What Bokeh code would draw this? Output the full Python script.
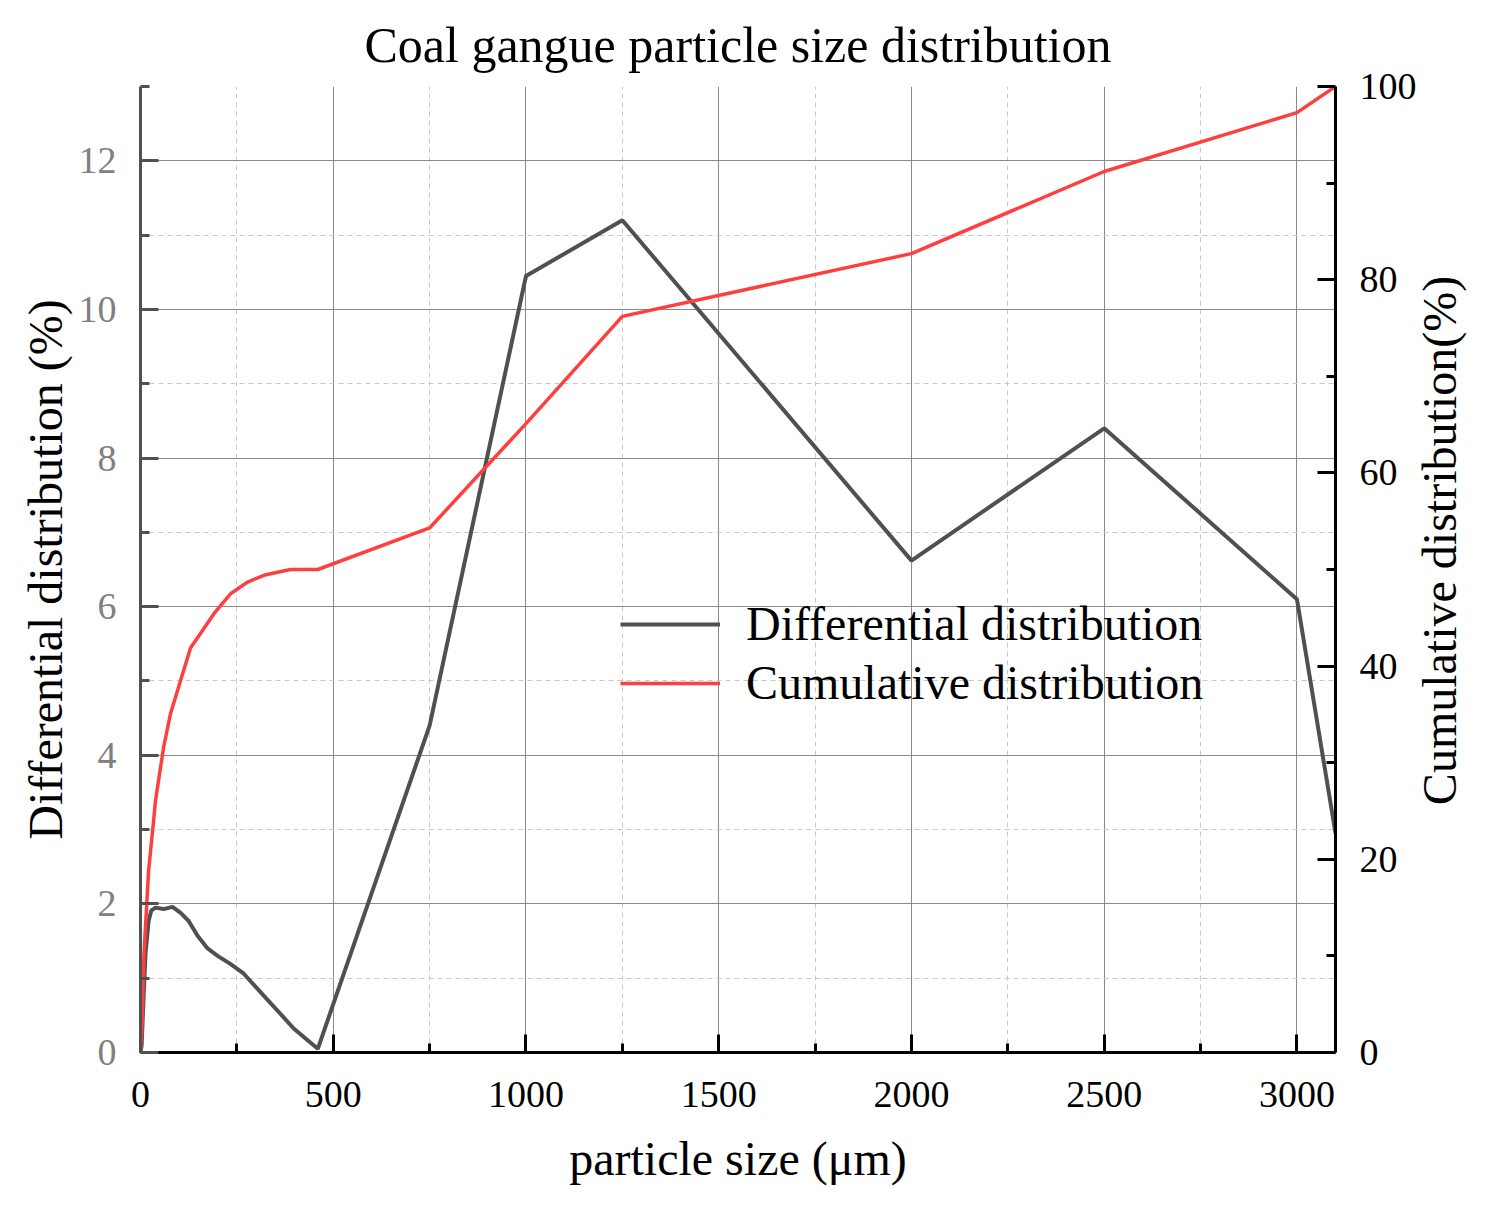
import math
from bokeh.plotting import figure
from bokeh.models import Range1d, LinearAxis, FixedTicker, Legend, LegendItem, Label
from bokeh.embed import file_html
from bokeh.resources import INLINE

# ---- data ----
size_diff = [0, 3, 8, 13, 21, 28, 39, 60, 83, 104, 125, 148, 174, 200, 234, 268, 303, 338, 372, 398,
             460, 750, 1000, 1250, 2000, 2500, 3000, 3100]
diff = [0.0, 0.1, 0.75, 1.33, 1.77, 1.91, 1.95, 1.93, 1.96, 1.88, 1.77, 1.57, 1.40, 1.30, 1.19, 1.06,
        0.86, 0.66, 0.47, 0.32, 0.05, 4.40, 10.45, 11.20, 6.62, 8.40, 6.10, 2.95]

size_cum = [0, 4, 9, 21, 34, 39, 60, 78, 104, 130, 156, 190, 234, 278, 320, 364, 390, 460,
            750, 1000, 1250, 2000, 2500, 3000, 3100]
cum = [0.0, 3.0, 10.2, 18.8, 24.0, 26.1, 31.6, 35.1, 38.5, 41.9, 43.4, 45.4, 47.5, 48.7, 49.4,
       49.8, 50.0, 50.0, 54.3, 65.1, 76.2, 82.7, 91.2, 97.3, 100.0]

x_ticks = [0, 500, 1000, 1500, 2000, 2500, 3000]
x_minor = [250, 750, 1250, 1750, 2250, 2750]
y_ticks = [0, 2, 4, 6, 8, 10, 12]
y_minor = [1, 3, 5, 7, 9, 11, 13]
y2_ticks = [0, 20, 40, 60, 80, 100]
y2_minor = [10, 30, 50, 70, 90]

title_text = "Coal gangue particle size distribution"
x_label = "particle size (μm)"
y_label = "Differential distribution (%)"
y2_label = "Cumulative distribution(%)"
series_names = ["Differential distribution", "Cumulative distribution"]

FONT = "Liberation Serif"
DARK = "#505050"
RED = "#ff3f3f"

p = figure(width=1477, height=1210, output_backend="svg", toolbar_location=None,
           x_range=Range1d(0, 3100), y_range=Range1d(0, 13),
           min_border_left=140, min_border_right=142, min_border_top=86, min_border_bottom=158)
p.outline_line_color = None
p.background_fill_color = "white"
p.border_fill_color = "white"

p.title.text = title_text
p.title.text_font = FONT
p.title.text_font_size = "50px"
p.title.text_font_style = "normal"
p.title.text_color = "black"
p.title.align = "center"
p.title.standoff = 28

p.extra_y_ranges = {"cum": Range1d(0, 100)}

# bottom axis
xa = p.xaxis[0]
xa.ticker = FixedTicker(ticks=x_ticks, minor_ticks=x_minor)
xa.axis_label = x_label
# left axis
ya = p.yaxis[0]
ya.ticker = FixedTicker(ticks=y_ticks, minor_ticks=y_minor)
ya.axis_label = y_label
# right axis (its title is a rotated label in the right panel)
ya2 = LinearAxis(y_range_name="cum",
                 ticker=FixedTicker(ticks=y2_ticks, minor_ticks=y2_minor))
p.add_layout(ya2, "right")

for ax, col, lblcol in [(xa, "black", "black"), (ya, DARK, "#808080"), (ya2, "black", "black")]:
    ax.axis_line_color = col
    ax.axis_line_width = 3
    ax.major_tick_line_color = col
    ax.minor_tick_line_color = col
    ax.major_tick_line_width = 3
    ax.minor_tick_line_width = 3
    ax.major_tick_in = 18
    ax.major_tick_out = 0
    ax.minor_tick_in = 9
    ax.minor_tick_out = 0
    ax.major_label_text_font = FONT
    ax.major_label_text_font_size = "38px"
    ax.major_label_text_color = lblcol
    ax.axis_label_text_font = FONT
    ax.axis_label_text_font_size = "48px"
    ax.axis_label_text_font_style = "normal"
    ax.axis_label_text_color = "black"
    ax.major_label_standoff = 24
    ax.axis_label_standoff = 4

xa.major_label_standoff = 29
xa.axis_label_standoff = 22

p.add_layout(Label(x=20, y=512, x_units="screen", y_units="screen", text=y2_label,
                   angle=math.pi / 2, text_align="center", text_baseline="middle",
                   text_font=FONT, text_font_size="48px", text_color="black"), "right")

for g, tk in [(p.xgrid[0], xa.ticker), (p.ygrid[0], ya.ticker)]:
    g.ticker = tk
    g.grid_line_color = "#8a8a8a"
    g.grid_line_width = 1
    g.minor_grid_line_color = "#c8c8c8"
    g.minor_grid_line_width = 1
    g.minor_grid_line_dash = "5 4"

r1 = p.line(size_diff, diff, line_color=DARK, line_width=4)
r2 = p.line(size_cum, cum, line_color=RED, line_width=3.5, y_range_name="cum")

legend = Legend(items=[LegendItem(label=series_names[0], renderers=[r1]),
                       LegendItem(label=series_names[1], renderers=[r2])],
                location=(480, 342))
legend.label_text_font = FONT
legend.label_text_font_size = "48px"
legend.label_text_color = "black"
legend.label_height = 50
legend.glyph_height = 50
legend.glyph_width = 100
legend.label_standoff = 26
legend.spacing = 4
legend.padding = 0
legend.margin = 0
legend.border_line_color = None
legend.background_fill_alpha = 0
p.add_layout(legend, "center")

open("out.html", "w").write(file_html(p, INLINE))
